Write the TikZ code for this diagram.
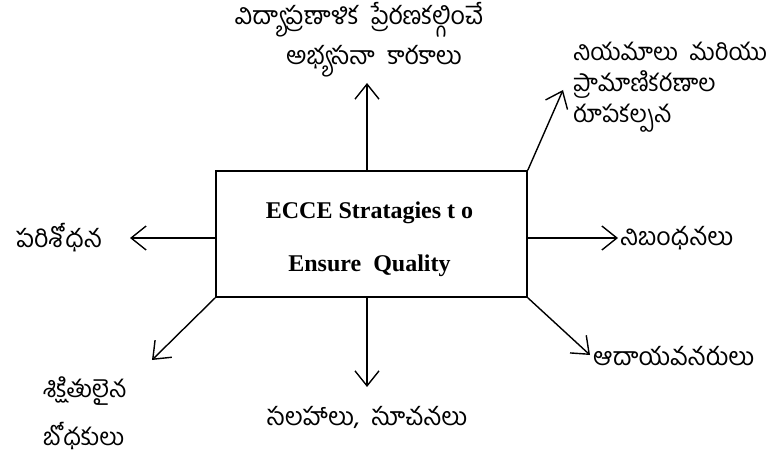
\documentclass[tikz,border=0pt]{standalone}
\usepackage{fontspec}
\setmainfont{Liberation Serif}
\newfontfamily\telugu[Script=Telugu]{Hind Guntur}
\usetikzlibrary{arrows.meta}
\tikzset{
  box/.style={draw, line width=1.6pt, minimum width=311pt, minimum height=126pt},
  title/.style={align=center, font=\bfseries\fontsize{24}{53}\selectfont},
  lbl/.style={inner sep=0pt, font=\telugu\fontsize{25}{40}\selectfont},
  link/.style={line width=1.4pt, -{Straight Barb[length=15pt,width=24pt,line width=1.4pt]}}
}
\begin{document}
\begin{tikzpicture}[x=1pt,y=-1pt]
  \useasboundingbox (0,0) rectangle (776,462);
  \node[box] (box) at (371.5,234) {};
  \node[title] (ecce) at (369.5,239) {ECCE Stratagies t o\\Ensure\ \ Quality};
  \node[lbl, align=center] (top) at (359,40) {విద్యాప్రణాళిక\ \ ప్రేరణకల్గించే\\\hspace*{30pt}అభ్యసనా\ \ కారకాలు};
  \node[lbl, align=left, anchor=west, font=\telugu\fontsize{24}{31}\selectfont] (norms) at (573,87) {నియమాలు\ \ మరియు\\ప్రామాణికరణాల\\రూపకల్పన};
  \node[lbl, anchor=west] (rules) at (620,238) {నిబంధనలు};
  \node[lbl, anchor=west] (funds) at (593,356) {ఆదాయవనరులు};
  \node[lbl] (advice) at (367,417) {సలహాలు,\ \ సూచనలు};
  \node[lbl, anchor=east] (research) at (102,238) {పరిశోధన};
  \node[lbl, align=left, anchor=west, font=\telugu\fontsize{24}{48}\selectfont] (teachers) at (43,413) {శిక్షితులైన\\బోధకులు};
  \coordinate (ttop) at (367,83);
  \coordinate (tnorms) at (563,90);
  \coordinate (trules) at (618,238);
  \coordinate (tfunds) at (590,355);
  \coordinate (tadvice) at (367,387);
  \coordinate (tresearch) at (130,238);
  \coordinate (tteachers) at (152,360);
  \begin{scope}[link]
    \draw (box.north -| ttop) -- (ttop);
    \draw (box.north east) -- (tnorms);
    \draw (box.east |- trules) -- (trules);
    \draw (box.south east) -- (tfunds);
    \draw (box.south -| tadvice) -- (tadvice);
    \draw (box.west |- tresearch) -- (tresearch);
    \draw (box.south west) -- (tteachers);
  \end{scope}
\end{tikzpicture}
\end{document}
